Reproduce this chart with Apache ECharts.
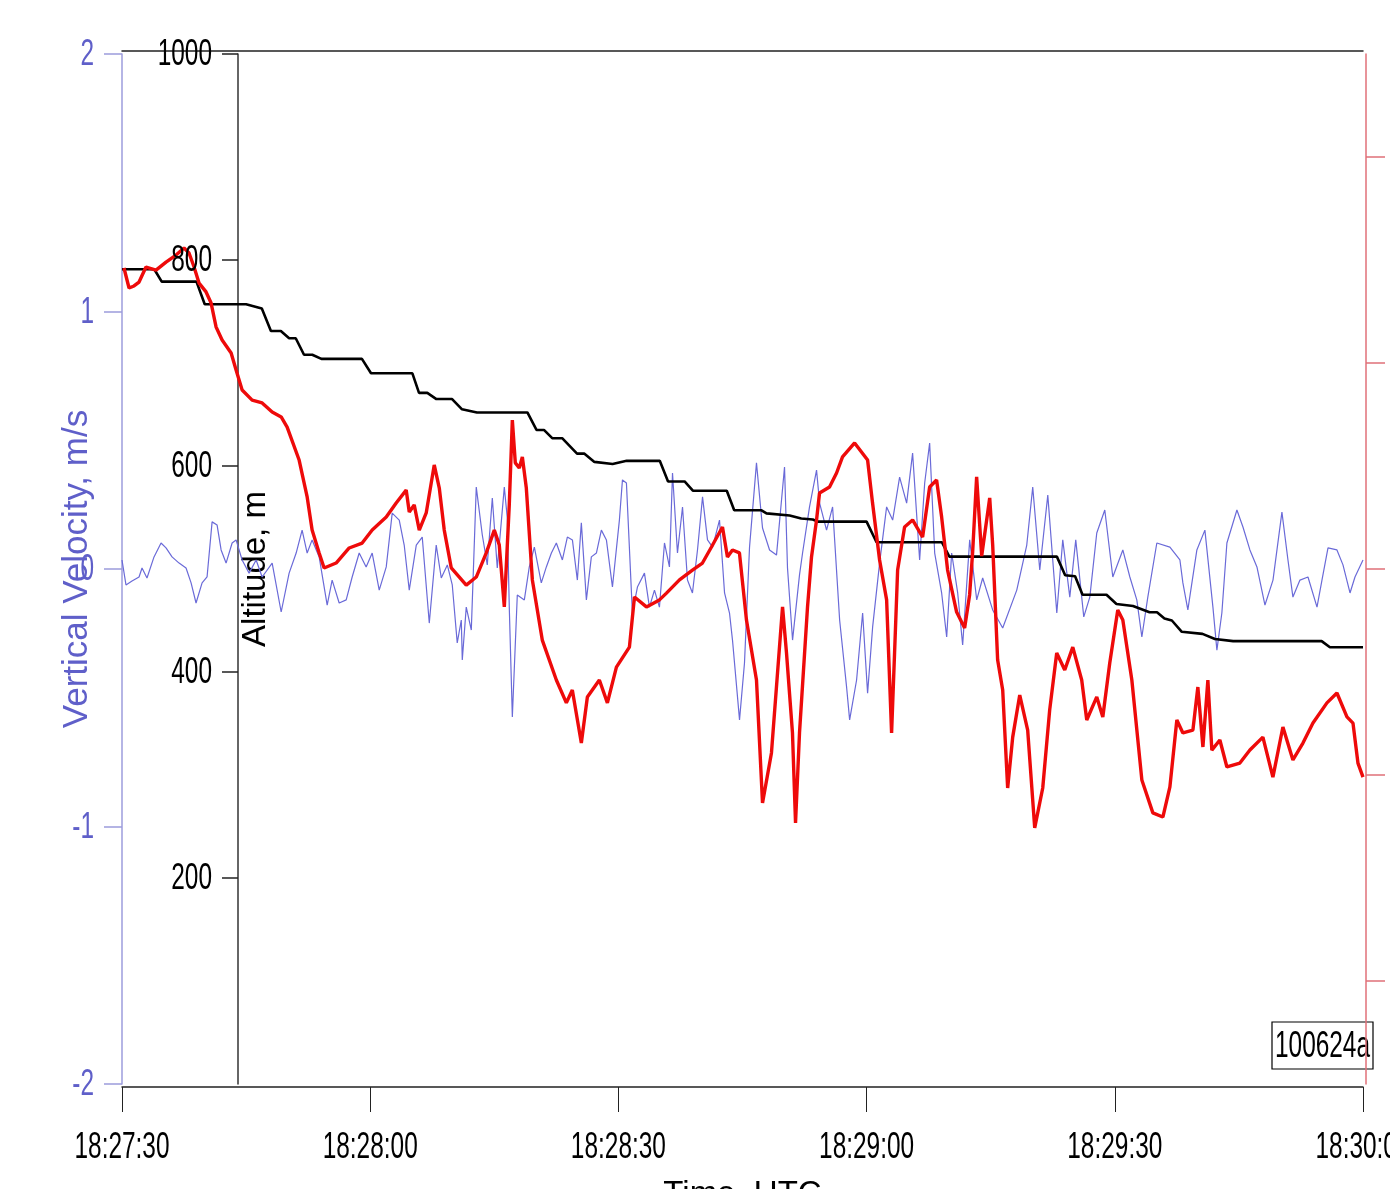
<!DOCTYPE html>
<html>
<head>
<meta charset="utf-8">
<style>
html,body{margin:0;padding:0;background:#fff;}
#chart{width:1390px;height:1189px;}
</style>
<script src="https://cdn.jsdelivr.net/npm/echarts@6/dist/echarts.min.js"></script>
</head>
<body>
<div id="chart"></div>
<script>
// time axis (seconds after 18:27:30 UTC)
var timeTicks = [0, 30, 60, 90, 120, 150];
var timeLabels = ['18:27:30','18:28:00','18:28:30','18:29:00','18:29:30','18:30:00'];
var velTicks = [-2, -1, 0, 1, 2];
var altTicks = [200, 400, 600, 800, 1000];
var redTicks = [-2, -1, 0, 1, 2];

// Altitude, m (black, stepped)
var altTime = [0,3.9,4.8,9.0,10.0,15.0,16.9,18.0,19.2,20.2,21.0,22.0,23.0,24.1,29.0,30.1,35.1,35.9,36.9,38.0,39.9,41.1,42.9,49.0,50.1,51.0,52.0,53.2,55.0,55.9,57.1,59.3,61.0,65.0,66.0,68.0,69.0,73.1,74.0,77.3,77.9,80.7,82.1,83.5,84.1,90.0,91.2,99.1,100.0,113.0,114.0,115.2,116.1,119.0,120.2,122.2,124.2,125.1,126.0,126.9,128.1,130.6,132.1,134.3,145.0,146.0,150.0];
var altValue = [791,791,779,779,757,757,753,731,731,724,724,708,708,704,704,690,690,671,671,665,665,655,652,652,635,635,627,627,612,612,604,602,605,605,585,585,576,576,557,557,554,552,549,548,546,546,526,526,512,512,494,493,475,475,466,464,458,458,452,450,439,437,432,430,430,424,424];

// Vertical velocity, m/s (blue)
var velTime = [0,0.48,1.21,2.06,2.42,3.02,3.87,4.72,5.32,6.05,6.90,7.74,8.35,8.95,9.68,10.28,10.89,11.49,11.98,12.58,13.31,13.79,14.52,15.36,16.21,16.94,18.15,19.24,20.20,21.05,21.77,22.38,22.98,23.83,24.80,25.40,26.25,27.10,27.82,28.67,29.51,30.24,31.09,31.94,32.66,33.51,34.11,34.72,35.57,36.29,37.14,37.98,38.59,39.32,39.92,40.52,41.01,41.13,41.61,42.22,42.82,43.55,44.15,44.76,45.36,46.21,46.57,46.81,47.18,47.78,48.63,49.23,49.84,50.68,51.29,51.90,52.50,53.23,53.83,54.44,55.04,55.52,56.13,56.73,57.34,57.94,58.55,59.28,60.12,60.49,60.97,61.69,62.30,63.15,63.75,64.36,64.96,65.57,66.17,66.54,67.14,67.75,68.35,68.95,69.56,70.17,70.77,71.38,72.22,72.83,73.43,73.79,74.64,75.24,75.85,76.69,77.42,78.27,79.11,80.08,80.44,81.05,81.89,82.26,83.10,83.95,84.32,85.16,85.89,86.74,87.58,87.95,88.79,89.52,90.12,90.73,91.57,92.42,93.15,93.99,94.84,95.56,96.41,97.02,97.62,98.23,99.07,99.68,100.28,101.01,101.61,102.46,103.31,104.03,105.24,106.45,108.15,109.36,110.08,110.93,111.90,112.99,113.71,114.56,115.28,116.25,116.98,117.82,118.79,119.76,120.97,121.82,122.66,123.27,123.99,125.08,126.66,127.87,128.23,128.83,129.92,130.89,131.86,132.34,132.94,133.55,134.76,135.49,136.33,137.18,138.15,139.12,140.20,140.93,141.53,142.38,143.35,144.44,145.04,145.77,146.85,147.58,148.43,149.03,150.0];
var velValue = [0.035,-0.062,-0.047,-0.031,0.004,-0.035,0.047,0.101,0.082,0.047,0.023,0.004,-0.054,-0.132,-0.054,-0.031,0.183,0.171,0.074,0.023,0.101,0.113,0.035,-0.016,0.035,-0.031,0.023,-0.167,-0.016,0.062,0.151,0.062,0.113,0.047,-0.140,-0.043,-0.132,-0.120,-0.031,0.062,0.008,0.062,-0.082,0.008,0.217,0.190,0.093,-0.082,0.093,0.124,-0.210,0.093,-0.035,0.016,-0.062,-0.287,-0.198,-0.353,-0.148,-0.237,0.318,0.132,0.016,0.276,0.004,0.318,0.198,-0.148,-0.575,-0.101,-0.120,0.008,0.085,-0.054,0.008,0.062,0.101,0.035,0.124,0.113,-0.043,0.179,-0.120,0.047,0.062,0.151,0.113,-0.070,0.190,0.346,0.334,-0.171,-0.070,-0.016,-0.148,-0.082,-0.148,0.101,0.008,0.373,0.062,0.241,-0.043,-0.093,0.074,0.280,0.113,0.085,0.190,-0.093,-0.171,-0.276,-0.586,-0.365,0.085,0.412,0.159,0.074,0.054,0.396,0.004,-0.276,-0.023,0.062,0.241,0.384,0.256,0.151,0.241,-0.198,-0.458,-0.586,-0.431,-0.171,-0.482,-0.225,0.023,0.241,0.190,0.357,0.256,0.450,0.035,0.334,0.489,0.062,-0.093,-0.264,0.062,-0.093,-0.295,0.113,-0.120,-0.035,-0.159,-0.229,-0.082,0.093,0.318,-0.004,0.287,-0.171,0.113,-0.109,0.113,-0.186,-0.109,0.140,0.229,-0.031,0.074,-0.031,-0.120,-0.264,-0.109,0.101,0.085,0.035,-0.054,-0.159,0.074,0.151,-0.148,-0.315,-0.171,0.101,0.229,0.163,0.074,0.008,-0.140,-0.043,0.221,0.035,-0.109,-0.043,-0.031,-0.148,-0.043,0.082,0.074,0.016,-0.093,-0.031,0.035];

// Red trace (right axis, unlabeled units)
var redTime = [0.24,0.85,1.45,2.06,2.90,4.11,5.32,6.53,7.50,8.10,8.71,9.31,10.16,10.77,11.37,12.10,13.19,13.79,14.52,15.73,16.94,18.15,19.24,19.96,21.41,22.38,22.98,23.83,24.43,25.88,27.46,29.03,30.24,31.94,33.14,34.35,34.72,35.32,35.93,36.77,37.74,38.35,38.95,39.80,41.61,42.82,44.03,45.00,45.60,46.21,46.81,47.18,47.54,48.02,48.39,48.87,49.60,50.80,52.50,53.71,54.43,55.52,56.25,57.70,58.67,59.76,61.33,61.94,63.39,64.96,65.81,67.38,68.95,70.16,71.25,72.58,73.18,73.79,74.63,75.48,76.69,77.42,78.50,79.84,80.32,81.04,81.41,81.89,82.86,83.34,83.95,84.31,85.52,86.37,87.09,88.55,90.12,90.72,91.57,92.42,93.02,93.38,93.75,94.59,95.56,96.77,97.62,98.46,99.07,99.79,100.88,101.85,102.45,102.82,103.30,103.91,104.88,105.24,105.84,106.45,107.05,107.66,108.51,109.47,110.32,111.29,112.13,112.98,113.95,114.92,116.00,116.61,117.82,118.55,119.39,120.36,120.97,122.06,123.27,124.60,125.81,126.66,127.50,128.23,129.44,130.04,130.65,131.25,131.73,132.70,133.55,135.12,136.33,137.90,139.11,140.32,141.53,142.74,143.95,145.64,146.85,148.06,148.79,149.39,150.0];
var redValue = [1.461,1.364,1.374,1.393,1.466,1.451,1.490,1.524,1.558,1.534,1.466,1.388,1.345,1.291,1.175,1.112,1.049,0.966,0.869,0.820,0.806,0.762,0.738,0.689,0.529,0.350,0.189,0.078,0.005,0.029,0.102,0.126,0.189,0.252,0.320,0.383,0.277,0.311,0.189,0.272,0.505,0.393,0.189,0.005,-0.078,-0.039,0.078,0.189,0.117,-0.184,0.311,0.723,0.515,0.490,0.544,0.393,-0.053,-0.345,-0.539,-0.650,-0.587,-0.845,-0.621,-0.539,-0.650,-0.476,-0.379,-0.136,-0.184,-0.150,-0.117,-0.053,-0.005,0.029,0.107,0.204,0.058,0.092,0.078,-0.248,-0.539,-1.136,-0.893,-0.184,-0.408,-0.796,-1.233,-0.796,-0.184,0.058,0.238,0.369,0.398,0.466,0.544,0.612,0.529,0.320,0.044,-0.150,-0.796,-0.408,-0.005,0.204,0.238,0.155,0.398,0.432,0.252,-0.005,-0.209,-0.286,-0.126,0.083,0.447,0.063,0.345,0.117,-0.442,-0.587,-1.063,-0.816,-0.612,-0.782,-1.257,-1.063,-0.684,-0.408,-0.490,-0.379,-0.539,-0.733,-0.621,-0.718,-0.456,-0.199,-0.248,-0.539,-1.024,-1.184,-1.204,-1.058,-0.733,-0.796,-0.782,-0.573,-0.864,-0.539,-0.879,-0.830,-0.961,-0.942,-0.879,-0.816,-1.010,-0.767,-0.927,-0.845,-0.748,-0.650,-0.602,-0.718,-0.748,-0.942,-1.010];

function zip(a, b) { return a.map(function (t, i) { return [t, b[i]]; }); }

var SANS = '"Liberation Sans", Arial, sans-serif';
var BLUE_TXT = '#5f5fc9';
var BLUE_AX = '#9c9cdc';
var RED_AX = '#e07078';
var SQUEEZE = 0.66;   // tick labels in the reference are horizontally condensed

var chart = echarts.init(document.getElementById('chart'));
chart.setOption({
  animation: false,
  backgroundColor: '#fff',
  grid: { left: 122, right: 27, top: 54, bottom: 105, containLabel: false, outerBoundsMode: 'none' },
  xAxis: [{
    type: 'value', min: 0, max: 150, interval: 30, position: 'bottom', offset: 3,
    name: 'Time, UTC', nameLocation: 'middle', nameGap: 91, nameMoveOverlap: false,
    nameTextStyle: { fontFamily: SANS, fontSize: 33, color: '#000' },
    axisLine: { show: true, onZero: false, lineStyle: { color: '#222', width: 1.5 } },
    axisTick: { show: true, length: 25, lineStyle: { color: '#222', width: 1 } },
    axisLabel: { show: false },
    splitLine: { show: false }
  }, {
    type: 'value', min: 0, max: 150, position: 'top', offset: 3,
    axisLine: { show: true, onZero: false, lineStyle: { color: '#222', width: 1.5 } },
    axisTick: { show: false }, axisLabel: { show: false }, splitLine: { show: false }
  }],
  yAxis: [{
    type: 'value', min: -2, max: 2, interval: 1, position: 'left',
    name: 'Vertical Velocity, m/s', nameLocation: 'middle', nameGap: 27, nameRotate: 90, nameMoveOverlap: false,
    nameTextStyle: { fontFamily: SANS, fontSize: 35, color: BLUE_TXT },
    axisLine: { show: true, onZero: false, lineStyle: { color: BLUE_AX, width: 1.5 } },
    axisTick: { show: true, length: 18, lineStyle: { color: BLUE_AX, width: 1.5 } },
    axisLabel: { show: false },
    splitLine: { show: false }
  }, {
    type: 'value', min: 0, max: 1000, position: 'left', offset: -116,
    name: 'Altitude, m', nameLocation: 'middle', nameGap: -34, nameRotate: 90, nameMoveOverlap: false,
    nameTextStyle: { fontFamily: SANS, fontSize: 33, color: '#000' },
    axisLine: { show: true, onZero: false, lineStyle: { color: '#333', width: 1.5 } },
    axisTick: { show: true, length: 16, customValues: altTicks, lineStyle: { color: '#222', width: 1.5 } },
    axisLabel: { show: false },
    splitLine: { show: false }
  }, {
    type: 'value', min: -2.5, max: 2.5, position: 'right', offset: 3,
    axisLine: { show: true, onZero: false, lineStyle: { color: RED_AX, width: 1.5 } },
    axisTick: { show: true, length: 19, customValues: redTicks, lineStyle: { color: RED_AX, width: 1.5 } },
    axisLabel: { show: false },
    splitLine: { show: false }
  }],
  series: [{
    name: 'Vertical Velocity', type: 'line', xAxisIndex: 0, yAxisIndex: 0,
    data: zip(velTime, velValue), showSymbol: false, symbol: 'none',
    lineStyle: { color: '#6a6ad8', width: 1.2 }, z: 2
  }, {
    name: 'Altitude', type: 'line', xAxisIndex: 0, yAxisIndex: 1,
    data: zip(altTime, altValue), showSymbol: false, symbol: 'none',
    lineStyle: { color: '#000', width: 2.6 }, z: 3
  }, {
    name: 'Red', type: 'line', xAxisIndex: 0, yAxisIndex: 2,
    data: zip(redTime, redValue), showSymbol: false, symbol: 'none',
    lineStyle: { color: '#ee0a0a', width: 3.4 }, z: 4
  }]
});

// condensed tick labels, placed through the axes' own scales
function label(x, y, text, color, align) {
  return {
    type: 'text', x: x, y: y, scaleX: SQUEEZE, z: 50, silent: true,
    style: { text: text, fontFamily: SANS, fontSize: 37, fill: color,
             align: align, textAlign: align, verticalAlign: 'middle', textVerticalAlign: 'middle' }
  };
}
var g = [];
var bottomY = chart.convertToPixel({ yAxisIndex: 0 }, -2);
var velX = chart.convertToPixel({ xAxisIndex: 0 }, 0);
timeTicks.forEach(function (t, i) {
  g.push(label(chart.convertToPixel({ xAxisIndex: 0 }, t), bottomY + 64, timeLabels[i], '#000', 'center'));
});
velTicks.forEach(function (v) {
  g.push(label(velX - 28, chart.convertToPixel({ yAxisIndex: 0 }, v) + 1, String(v), BLUE_TXT, 'right'));
});
altTicks.forEach(function (v) {
  g.push(label(velX + 90, chart.convertToPixel({ yAxisIndex: 1 }, v) + 1, String(v), '#000', 'right'));
});
// dataset tag box (bottom-right)
g.push({
  type: 'group', x: 1272, y: 1022, z: 60,
  children: [
    { type: 'rect', shape: { x: 0, y: 0, width: 101, height: 47 },
      style: { fill: '#fff', stroke: '#000', lineWidth: 1.2 } },
    { type: 'text', x: 50.5, y: 24.5, scaleX: SQUEEZE,
      style: { text: '100624a', fontFamily: SANS, fontSize: 37, fill: '#000',
               align: 'center', textAlign: 'center', verticalAlign: 'middle', textVerticalAlign: 'middle' } }
  ]
});
chart.setOption({ graphic: g });
</script>
</body>
</html>
